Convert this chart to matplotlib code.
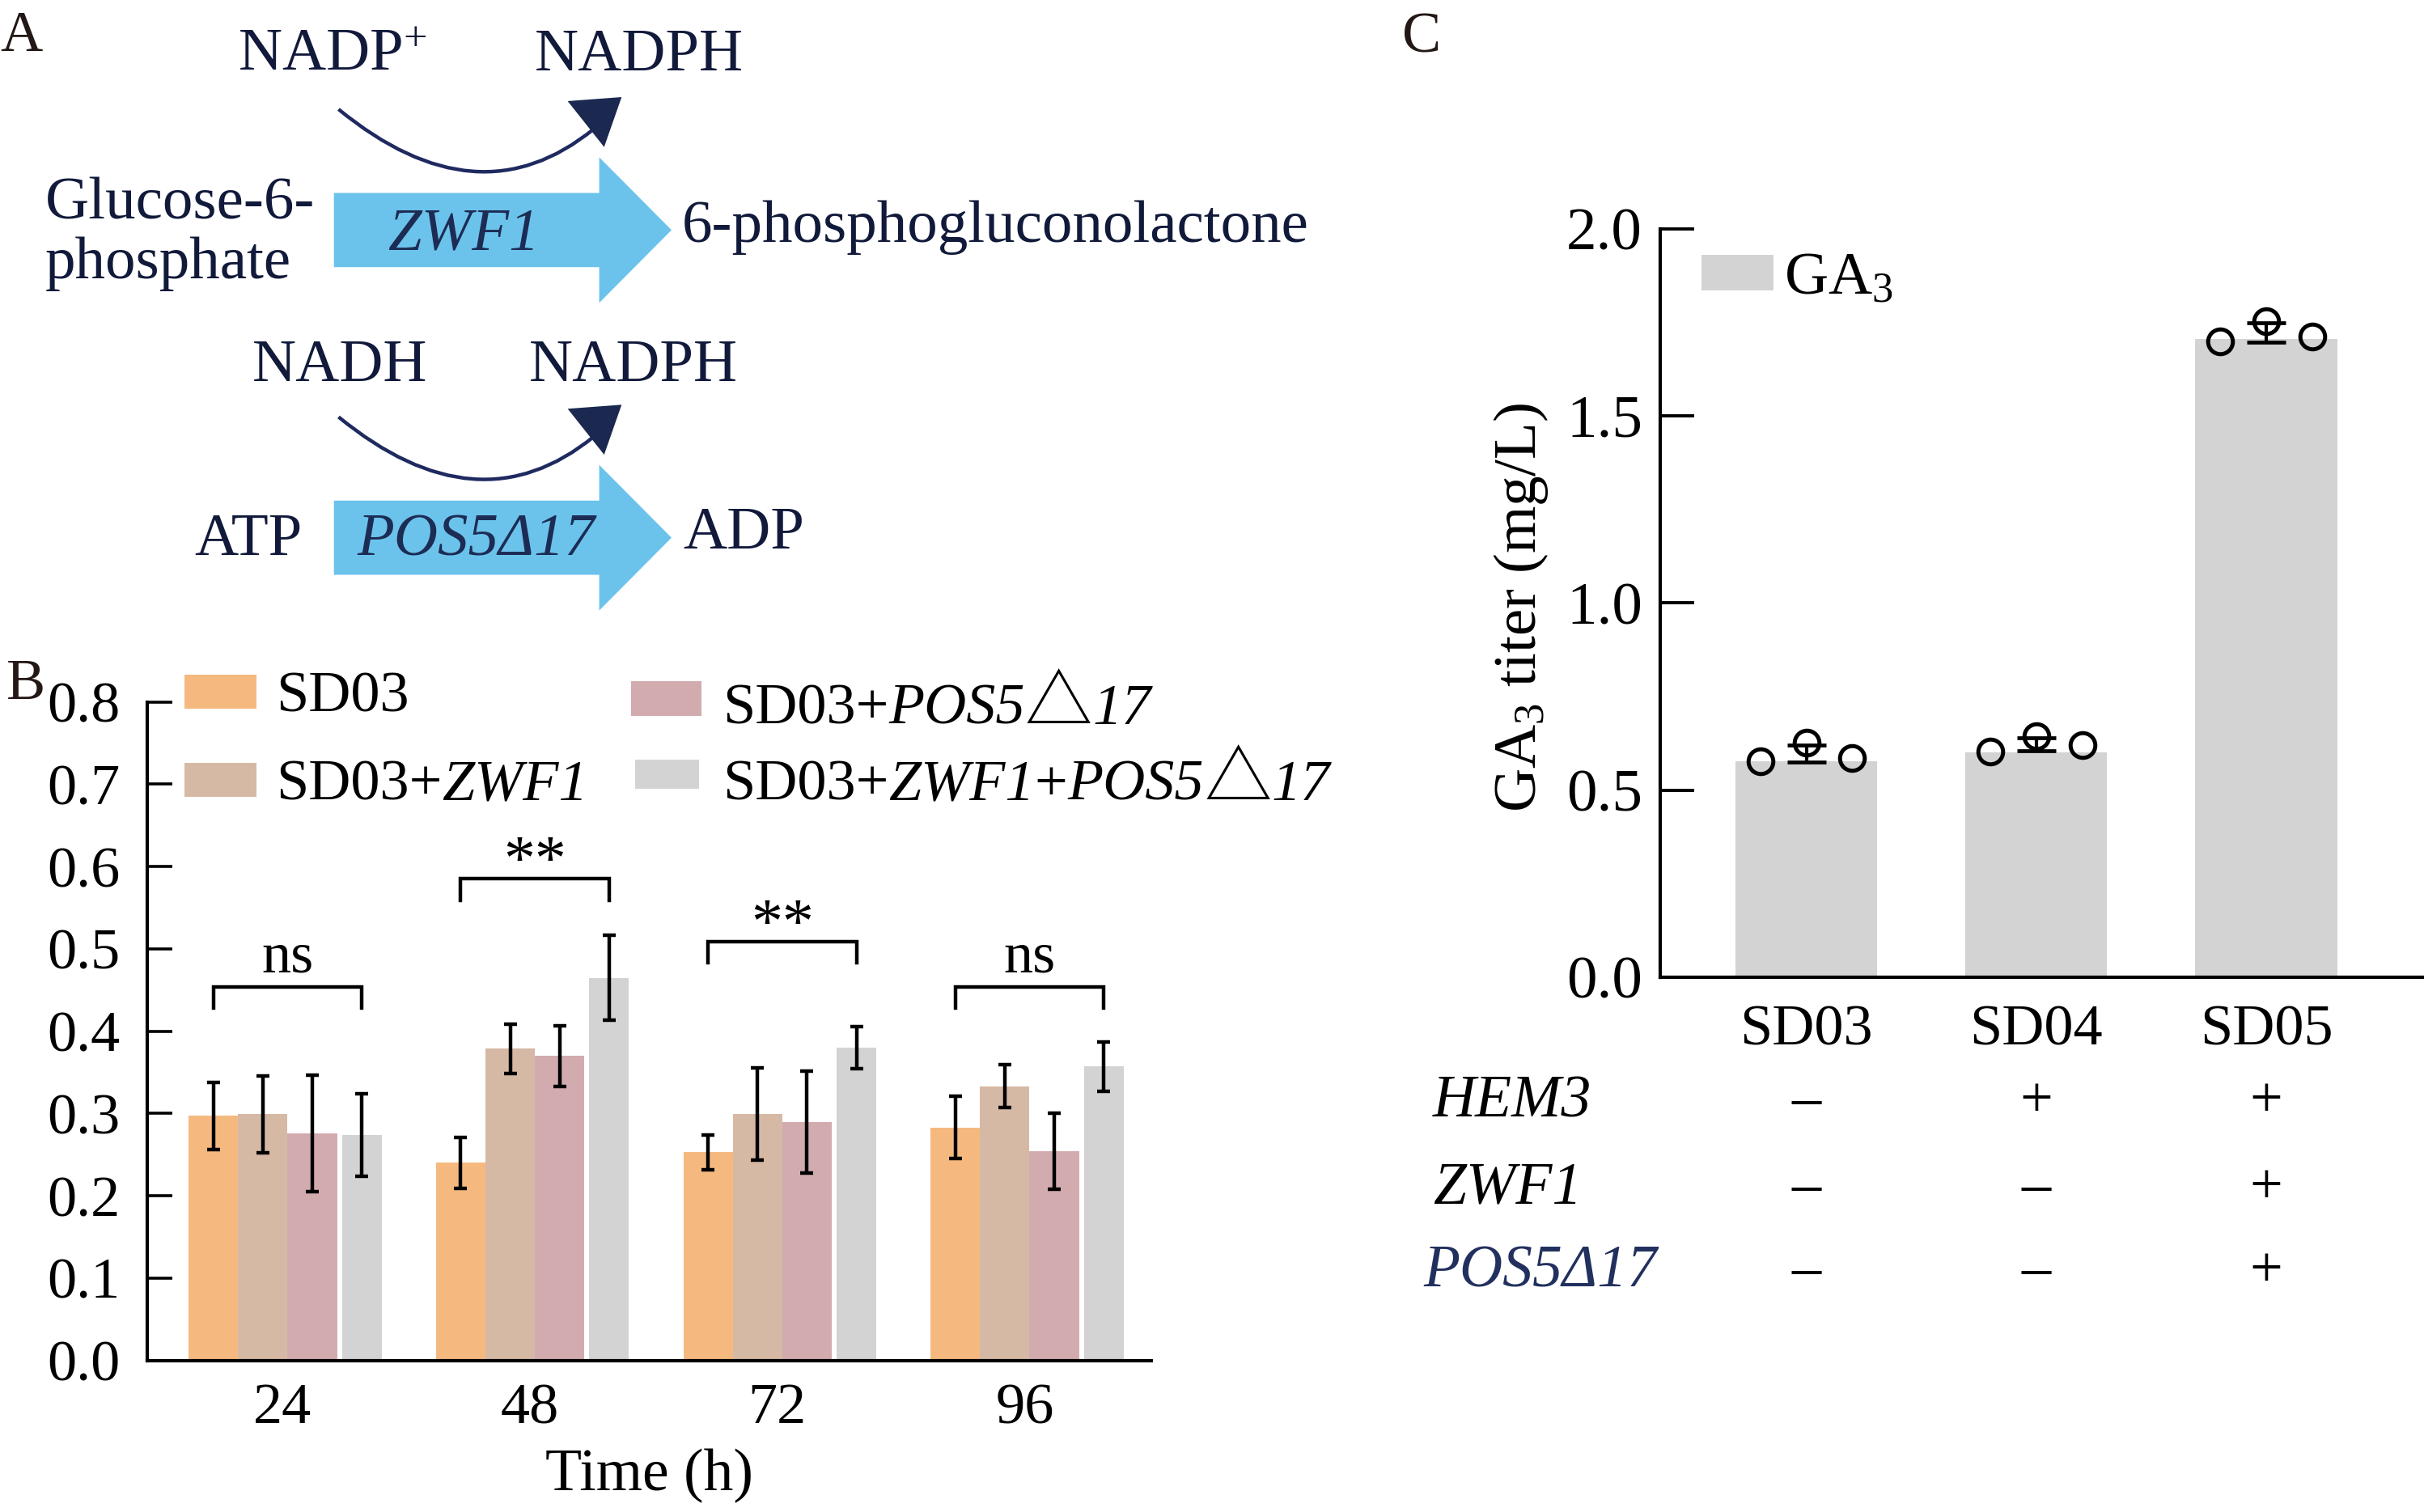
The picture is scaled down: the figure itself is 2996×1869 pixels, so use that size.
import numpy as np
import matplotlib
matplotlib.use('Agg')
import matplotlib.pyplot as plt
import matplotlib.transforms as mtransforms
from matplotlib.patches import FancyArrow, Polygon, PathPatch, Rectangle
from matplotlib.path import Path
from matplotlib.offsetbox import TextArea, HPacker, AnnotationBbox

plt.rcParams['font.family'] = ['Liberation Serif', 'DejaVu Serif', 'DejaVu Sans']
plt.rcParams['mathtext.fontset'] = 'custom'
plt.rcParams['mathtext.rm'] = 'Liberation Serif'
plt.rcParams['mathtext.it'] = 'Liberation Serif:italic'

# ---------------- data: panel B ----------------
times = ['24', '48', '72', '96']
vals_sd03 = [0.297, 0.240, 0.253, 0.283]
vals_zwf1 = [0.299, 0.379, 0.299, 0.333]
vals_pos5 = [0.276, 0.370, 0.290, 0.254]
vals_both = [0.274, 0.465, 0.380, 0.357]
err_sd03 = [0.041, 0.031, 0.021, 0.038]
err_zwf1 = [0.047, 0.030, 0.056, 0.026]
err_pos5 = [0.071, 0.037, 0.062, 0.046]
err_both = [0.050, 0.052, 0.026, 0.030]
sig_labels = ['ns', '**', '**', 'ns']
sig_heights = [0.454, 0.585, 0.509, 0.454]

# ---------------- data: panel C ----------------
strains_C = ['SD03', 'SD04', 'SD05']
ga3_bar = [0.577, 0.600, 1.705]
ga3_reps = [[0.577, 0.627, 0.586],
            [0.602, 0.644, 0.621],
            [1.700, 1.754, 1.712]]
ga3_err = [0.023, 0.018, 0.026]
genes = ['HEM3', 'ZWF1', 'POS5Δ17']
gene_status = [['–', '+', '+'],
               ['–', '–', '+'],
               ['–', '–', '+']]

# ---------------- figure / layout ----------------
W, H = 1568.0, 978.0
fig = plt.figure(figsize=(14.98, 9.345), dpi=200)


def rect(l, t, r, b):
    return [l / W, 1 - b / H, (r - l) / W, (b - t) / H]


axB = fig.add_axes(rect(95, 454, 745, 880))
axC = fig.add_axes(rect(1074, 148, 1568, 632))
for a in (axB, axC):
    a.set_facecolor('none')
ov = fig.add_axes([0, 0, 1, 1])
ov.set_xlim(0, W)
ov.set_ylim(H, 0)
ov.axis('off')

NAVY_TXT = '#111a3a'
NAVY_GENE = '#1c2c54'
BLUE = '#6bc3ec'

# ---------------- panel A ----------------
fsA = 27
ov.text(0, 33, 'A', fontsize=26, color='#231815', va='baseline', ha='left')
for dy, left_txt, right_txt, lx, rx in [(0, 'NADP$^{+}$', 'NADPH', 154, 346),
                                        (199, 'NADH', 'NADPH', 163, 342)]:
    by = 45.5 + dy + (2 if dy else 0)
    ov.text(lx, by, left_txt, fontsize=fsA, color=NAVY_TXT, va='baseline', ha='left')
    ov.text(rx, by, right_txt, fontsize=fsA, color=NAVY_TXT, va='baseline', ha='left')
    # curved cofactor arrow
    p0 = (219, 70.7 + dy)
    m = (305.3, 110.8 + dy)
    p2 = (384, 83.5 + dy)
    p1 = (2 * m[0] - (p0[0] + p2[0]) / 2, 2 * m[1] - (p0[1] + p2[1]) / 2)
    path = Path([p0, p1, p2], [Path.MOVETO, Path.CURVE3, Path.CURVE3])
    ov.add_patch(PathPatch(path, fc='none', ec='#1f2a60', lw=1.6))
    ov.add_patch(Polygon([(367.2, 65.4 + dy), (402.1, 62.8 + dy), (390.8, 95.1 + dy)],
                         closed=True, fc='#1b2950', ec='none'))
    # big blue arrow
    ov.add_patch(FancyArrow(216, 148.8 + dy, 434.4 - 216, 0, width=48, head_width=94.2,
                            head_length=46.8, length_includes_head=True, fc=BLUE, ec='none'))

ov.text(29, 141.8, 'Glucose-6-', fontsize=fsA, color=NAVY_TXT, va='baseline')
ov.text(29, 179.8, 'phosphate', fontsize=fsA, color=NAVY_TXT, va='baseline')
ov.text(441, 156.2, '6-phosphogluconolactone', fontsize=fsA, color=NAVY_TXT, va='baseline')
ov.text(299.7, 161.4, 'ZWF1', fontsize=fsA, color=NAVY_GENE, style='italic',
        va='baseline', ha='center')
ov.text(125.8, 359, 'ATP', fontsize=fsA, color=NAVY_TXT, va='baseline')
ov.text(308, 359, 'POS5Δ17', fontsize=fsA, color=NAVY_GENE, style='italic',
        va='baseline', ha='center')
ov.text(442, 354.7, 'ADP', fontsize=fsA, color=NAVY_TXT, va='baseline')

# ---------------- panel B ----------------
fsB = 26
x = np.arange(len(times))
series_vals = [vals_sd03, vals_zwf1, vals_pos5, vals_both]
series_errs = [err_sd03, err_zwf1, err_pos5, err_both]
offsets = [-0.28, -0.08, 0.12, 0.32]
widths = [0.2, 0.2, 0.2, 0.16]
colorsB = ['#F5B97F', '#D5B9A5', '#D2ABAE', '#D3D3D3']
for vals, errs, off, w, c in zip(series_vals, series_errs, offsets, widths, colorsB):
    axB.bar(x + off, vals, w, color=c, lw=0, zorder=2)
    axB.errorbar(x + off, vals, yerr=errs, fmt='none', ecolor='k', elinewidth=1.6,
                 capsize=3.0, capthick=1.6, zorder=3)
for i, (lab, h) in enumerate(zip(sig_labels, sig_heights)):
    x0, x1 = x[i] + offsets[0], x[i] + offsets[3]
    axB.plot([x0, x0, x1, x1], [h - 0.026, h, h, h - 0.026], color='k', lw=1.6,
             solid_joinstyle='miter', zorder=3)
    yb = h + (0.018 if lab == 'ns' else 0.0)
    axB.text((x0 + x1) / 2, yb, lab, ha='center', va='baseline',
             fontsize=fsB if lab == 'ns' else 28)

axB.set_xlim(-0.549, 3.514)
axB.set_ylim(0, 0.8)
axB.set_xticks(x)
axB.set_xticklabels(times)
yt = np.round(np.arange(0, 0.81, 0.1), 1)
axB.set_yticks(yt)
axB.set_yticklabels([f'{v:.1f}' for v in yt])
axB.tick_params(axis='y', direction='in', length=11, width=1.3, labelsize=fsB, pad=12)
axB.tick_params(axis='x', length=0, labelsize=fsB, pad=10)
for s in ('top', 'right'):
    axB.spines[s].set_visible(False)
for s in ('left', 'bottom'):
    axB.spines[s].set_linewidth(1.5)
axB.set_xlabel('Time (h)', fontsize=26.5, labelpad=6)

# legend for B (rich text: italic gene names)
it = dict(fontsize=fsB, style='italic', color='k')
rm = dict(fontsize=fsB, color='k')
tri = dict(fontsize=30, family=['Noto Sans CJK SC', 'DejaVu Sans'], color='k')
legend_rows = [
    (119.4, 436.2, 165.8, 458.3, colorsB[0], 178.3, 461.0, [('SD03', rm)]),
    (119.4, 493.2, 165.8, 515.3, colorsB[1], 178.3, 518.2, [('SD03+', rm), ('ZWF1', it)]),
    (408.4, 440.5, 453.7, 462.9, colorsB[2], 467.3, 465.4,
     [('SD03+', rm), ('POS5', it), ('△', tri), ('17', it)]),
    (410.6, 491.4, 452.0, 510.3, colorsB[3], 467.3, 514.6,
     [('SD03+', rm), ('ZWF1', it), ('+', rm), ('POS5', it), ('△', tri), ('17', it)]),
]
for l, t, r, b, c, tx, tb, parts in legend_rows:
    ov.add_patch(Rectangle((l, t), r - l, b - t, fc=c, ec='none'))
    tas = [TextArea(s, textprops=p) for s, p in parts]
    box = HPacker(children=tas, align='baseline', pad=0, sep=0)
    ab = AnnotationBbox(box, (tx, tb - 10), xycoords='data', box_alignment=(0, 0.5),
                        frameon=False, pad=0)
    ov.add_artist(ab)
ov.text(4.3, 452, 'B', fontsize=26, color='#231815', va='baseline')

# ---------------- panel C ----------------
fsC = 27
xc = np.arange(len(strains_C))
axC.bar(xc, ga3_bar, 0.617, color='#D3D3D3', lw=0, zorder=1, label='GA$_{3}$')
jit = np.array([-0.2, 0.0, 0.2])
axC.errorbar(xc, [np.mean(r) for r in ga3_reps], yerr=ga3_err, fmt='none', ecolor='k',
             elinewidth=1.5, capsize=8.5, capthick=1.7, zorder=3)
for i, reps in enumerate(ga3_reps):
    axC.plot(xc[i] + jit, reps, 'o', mfc='none', mec='k', ms=11, mew=1.8, zorder=4,
             clip_on=False)
axC.set_xlim(-0.635, 2.686)
axC.set_ylim(0, 2.0)
ytc = [0.0, 0.5, 1.0, 1.5, 2.0]
axC.set_yticks(ytc)
axC.set_yticklabels([f'{v:.1f}' for v in ytc])
axC.set_xticks(xc)
axC.set_xticklabels(strains_C)
axC.tick_params(axis='y', direction='in', length=15, width=1.4, labelsize=fsC, pad=8)
axC.tick_params(axis='x', length=0, labelsize=26, pad=12)
for s in ('top', 'right'):
    axC.spines[s].set_visible(False)
for s in ('left', 'bottom'):
    axC.spines[s].set_linewidth(1.5)
axC.set_ylabel('GA$_{3}$ titer (mg/L)', fontsize=fsC)
axC.yaxis.set_label_coords(-0.144, 0.494)
axC.legend(loc='center left', bbox_to_anchor=(0.0534, 0.932), frameon=False,
           fontsize=fsC, handlelength=1.19, handleheight=0.54, handletextpad=0.17,
           borderpad=0, borderaxespad=0)

blend = mtransforms.blended_transform_factory(axC.transData, axC.transAxes)
row_y = [713, 769, 823]
gene_colors = ['k', 'k', '#22305e']
gene_x = [927, 927, 921]
for r, (g, yy) in enumerate(zip(genes, row_y)):
    ov.text(gene_x[r], yy, g, fontsize=26.5, style='italic', color=gene_colors[r],
            va='center', ha='left')
    yf = (632 - yy) / 484.0
    for j, sgn in enumerate(gene_status[r]):
        axC.text(xc[j], yf, sgn, transform=blend, ha='center', va='center',
                 fontsize=26, clip_on=False)
ov.text(907, 34, 'C', fontsize=26, color='#231815', va='baseline')

fig.savefig('out.png', dpi=200)
